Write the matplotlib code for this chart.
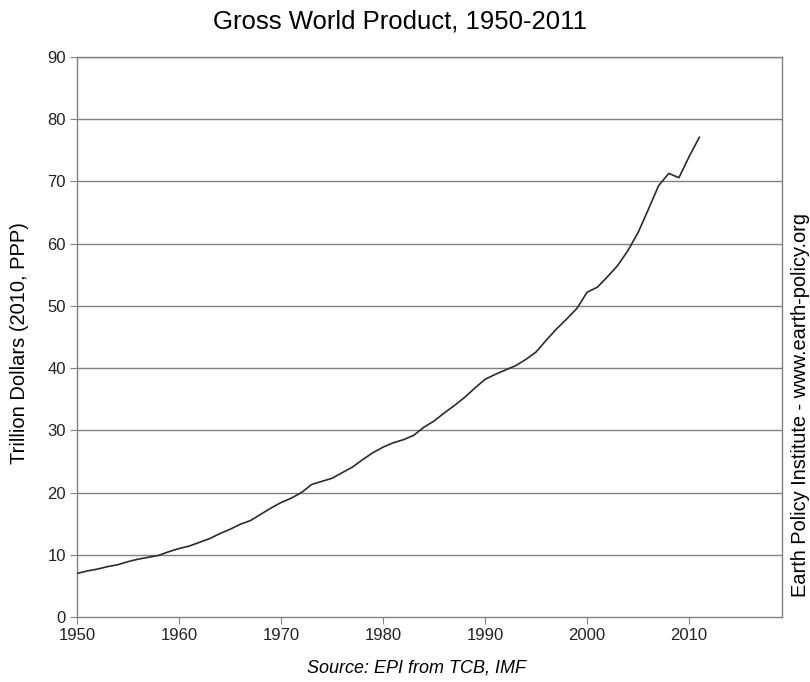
import numpy as np
import matplotlib
matplotlib.use('Agg')
import matplotlib.pyplot as plt
from matplotlib import rcParams

config = {
    "font.family": ['Liberation Sans', 'DejaVu Sans'],
    "font.size": 12,
}
rcParams.update(config)

years = np.arange(1950, 2012)
# Gross world product, trillion dollars (2010, PPP)
gwp = [7.0, 7.4, 7.7, 8.1, 8.4, 8.9, 9.3, 9.6, 9.9, 10.5,
       11.0, 11.4, 12.0, 12.6, 13.4, 14.1, 14.9, 15.5, 16.5, 17.5,
       18.4, 19.1, 20.0, 21.3, 21.8, 22.3, 23.2, 24.1, 25.3, 26.4,
       27.3, 28.0, 28.5, 29.2, 30.5, 31.5, 32.8, 34.0, 35.3, 36.8,
       38.2, 39.0, 39.7, 40.4, 41.4, 42.6, 44.5, 46.3, 47.9, 49.6,
       52.2, 53.0, 54.7, 56.5, 58.9, 61.8, 65.5, 69.3, 71.3, 70.6,
       74.0, 77.1]
x_ticks = [1950, 1960, 1970, 1980, 1990, 2000, 2010]
y_ticks = np.arange(0, 91, 10)


def plot_gwp():
    fig = plt.figure(figsize=(8.1, 6.82), dpi=100)
    ax = fig.add_axes([0.0951, 0.0953, 0.8703, 0.8211])

    for y in y_ticks[1:]:
        ax.axhline(y, color='#808080', linewidth=1.0, zorder=1)
    ax.plot(years, gwp, color='#2b2b2b', linewidth=1.2, zorder=3)

    ax.set_xlim(1950, 2019.1)
    ax.set_ylim(0, 90)
    ax.set_xticks(x_ticks)
    ax.set_yticks(y_ticks)
    ax.tick_params(axis='both', direction='out', length=5, color='#808080',
                   labelsize=12, labelcolor='#222222', pad=3)
    for side in ['left', 'right', 'top', 'bottom']:
        ax.spines[side].set_color('#808080')
        ax.spines[side].set_linewidth(1.0)

    fig.text(20 / 810, 1 - 343 / 682, 'Trillion Dollars (2010, PPP)', ha='center',
             va='center', rotation=90, fontsize=14.5)
    fig.text(400 / 810, 1 - 22 / 682, 'Gross World Product, 1950-2011', ha='center',
             va='center', fontsize=18.5)
    fig.text(416 / 810, 1 - 668 / 682, 'Source: EPI from TCB, IMF', ha='center',
             va='center', fontsize=13, style='italic')
    fig.text(800 / 810, 1 - 405 / 682, 'Earth Policy Institute - www.earth-policy.org',
             ha='center', va='center', rotation=90, fontsize=14.4)

    plt.savefig('out.png', dpi=100)


if __name__ == '__main__':
    plot_gwp()
